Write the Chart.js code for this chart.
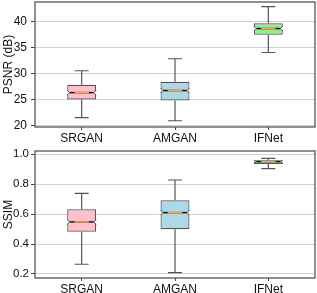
<!DOCTYPE html>
<html lang="en">
<head>
    <meta charset="UTF-8">
    <title>PSNR / SSIM box plots</title>
    <script src="https://cdn.jsdelivr.net/npm/chart.js"></script>
    <style>
        html, body { margin: 0; padding: 0; background: #fff; }
        #wrap { position: relative; width: 317px; height: 293px; overflow: hidden; }
        .box { position: absolute; left: 0; width: 317px; }
    </style>
</head>
<body>
    <div id="wrap">
        <div class="box" style="top:0;height:145px;"><canvas id="psnrChart"></canvas></div>
        <div class="box" style="top:145px;height:148px;"><canvas id="ssimChart"></canvas></div>
    </div>

    <script>
        const methods = ['SRGAN', 'AMGAN', 'IFNet'];
        const boxColors = ['#ffc0cb', '#add8e6', '#90ee90'];

        // PSNR (dB) box stats
        const psnrMin = [21.5, 20.9, 34.0];
        const psnrQ1 = [25.0, 24.8, 37.4];
        const psnrMedian = [26.3, 26.7, 38.6];
        const psnrQ3 = [27.8, 28.4, 39.6];
        const psnrMax = [30.5, 32.8, 42.8];
        const psnrTicks = [20, 25, 30, 35, 40];

        // SSIM box stats
        const ssimMin = [0.265, 0.209, 0.904];
        const ssimQ1 = [0.483, 0.499, 0.935];
        const ssimMedian = [0.548, 0.610, 0.951];
        const ssimQ3 = [0.632, 0.692, 0.960];
        const ssimMax = [0.739, 0.828, 0.973];
        const ssimTicks = [0.2, 0.4, 0.6, 0.8, 1.0];

        const FONT = 'Arial, "Liberation Sans", Helvetica, sans-serif';

        // whiskers, caps, notch and median drawn through the chart scales
        const boxPlotPlugin = {
            id: 'boxPlot',
            beforeDatasetsDraw(chart, args, opts) {
                const ctx = chart.ctx, x = chart.scales.x, y = chart.scales.y;
                ctx.save();
                ctx.strokeStyle = '#555';
                ctx.lineWidth = 1.2;
                methods.forEach((m, i) => {
                    const cx = x.getPixelForValue(i);
                    const capHalf = 7;
                    const yMin = y.getPixelForValue(opts.min[i]);
                    const yMax = y.getPixelForValue(opts.max[i]);
                    const yQ1 = y.getPixelForValue(opts.q1[i]);
                    const yQ3 = y.getPixelForValue(opts.q3[i]);
                    ctx.beginPath();
                    ctx.moveTo(cx, yMin); ctx.lineTo(cx, yQ1);
                    ctx.moveTo(cx, yQ3); ctx.lineTo(cx, yMax);
                    ctx.moveTo(cx - capHalf, yMin); ctx.lineTo(cx + capHalf, yMin);
                    ctx.moveTo(cx - capHalf, yMax); ctx.lineTo(cx + capHalf, yMax);
                    ctx.stroke();
                });
                ctx.restore();
            },
            afterDatasetsDraw(chart, args, opts) {
                const ctx = chart.ctx, y = chart.scales.y;
                const meta = chart.getDatasetMeta(0);
                ctx.save();
                meta.data.forEach((bar, i) => {
                    const half = bar.width / 2;
                    const left = bar.x - half, right = bar.x + half;
                    const yMed = y.getPixelForValue(opts.median[i]);
                    const top = Math.min(bar.y, bar.base), bottom = Math.max(bar.y, bar.base);
                    const nh = Math.min(2.5, (bottom - top) / 2 - 0.5);
                    const ind = 2.5;
                    if (nh > 0.5) {
                        // notch cut-outs
                        ctx.fillStyle = '#fff';
                        ctx.beginPath();
                        ctx.moveTo(left - 1, yMed - nh); ctx.lineTo(left + ind, yMed); ctx.lineTo(left - 1, yMed + nh);
                        ctx.moveTo(right + 1, yMed - nh); ctx.lineTo(right - ind, yMed); ctx.lineTo(right + 1, yMed + nh);
                        ctx.fill();
                        ctx.strokeStyle = '#555';
                        ctx.lineWidth = 1;
                        ctx.beginPath();
                        ctx.moveTo(left, yMed - nh); ctx.lineTo(left + ind, yMed); ctx.lineTo(left, yMed + nh);
                        ctx.moveTo(right, yMed - nh); ctx.lineTo(right - ind, yMed); ctx.lineTo(right, yMed + nh);
                        ctx.stroke();
                    }
                    ctx.lineWidth = 1.5;
                    ctx.strokeStyle = '#111';
                    ctx.beginPath();
                    ctx.moveTo(left + ind, yMed); ctx.lineTo(right - ind, yMed);
                    ctx.stroke();
                    ctx.strokeStyle = '#f2a65a';
                    ctx.beginPath();
                    ctx.moveTo(left + half * 0.5, yMed); ctx.lineTo(right - half * 0.5, yMed);
                    ctx.stroke();
                });
                ctx.restore();
            },
            afterDraw(chart) {
                const a = chart.chartArea, ctx = chart.ctx;
                ctx.save();
                ctx.strokeStyle = '#555';
                ctx.lineWidth = 1.3;
                ctx.strokeRect(a.left, a.top, a.right - a.left, a.bottom - a.top);
                ctx.restore();
            }
        };

        function makeBoxChart(id, stats, range, ticks, title, cfg) {
            const ctx = document.getElementById(id).getContext('2d');
            return new Chart(ctx, {
                type: 'bar',
                data: {
                    labels: methods,
                    datasets: [{
                        data: methods.map((m, i) => [stats.q1[i], stats.q3[i]]),
                        backgroundColor: boxColors,
                        borderColor: '#555',
                        borderWidth: 1.2,
                        borderSkipped: false,
                        categoryPercentage: 1,
                        barPercentage: 0.31
                    }]
                },
                options: {
                    responsive: true,
                    maintainAspectRatio: false,
                    animation: false,
                    events: [],
                    layout: { padding: { top: cfg.top, right: 2, left: 0, bottom: 0 } },
                    plugins: {
                        legend: { display: false },
                        tooltip: { enabled: false },
                        boxPlot: stats
                    },
                    scales: {
                        x: {
                            grid: { display: true, drawOnChartArea: false, offset: false, tickLength: 3, tickColor: '#444' },
                            border: { display: false },
                            ticks: { padding: 1, color: '#111', font: { family: FONT, size: 12 } },
                            afterFit: s => { s.height = cfg.xHeight; s.paddingLeft = 0; s.paddingRight = 0; }
                        },
                        y: {
                            min: range[0],
                            max: range[1],
                            afterBuildTicks: s => { s.ticks = ticks.map(v => ({ value: v })); },
                            grid: { color: '#d0d0d0', lineWidth: 1, tickLength: 4, tickColor: '#444' },
                            border: { display: false },
                            ticks: {
                                padding: cfg.tickPad,
                                color: '#111',
                                font: { family: FONT, size: cfg.tickSize },
                                callback: v => cfg.decimals ? Number(v).toFixed(cfg.decimals) : v
                            },
                            title: { display: true, text: title, color: '#111', padding: { top: 1, bottom: 0 }, font: { family: FONT, size: 12 } },
                            afterFit: s => { s.width = 35; s.paddingTop = 0; s.paddingBottom = 0; }
                        }
                    }
                },
                plugins: [boxPlotPlugin]
            });
        }

        makeBoxChart('psnrChart',
            { min: psnrMin, q1: psnrQ1, median: psnrMedian, q3: psnrQ3, max: psnrMax },
            [19.7, 43.7], psnrTicks, 'PSNR (dB)',
            { top: 2, xHeight: 18, tickPad: 4, tickSize: 12, decimals: 0 });

        makeBoxChart('ssimChart',
            { min: ssimMin, q1: ssimQ1, median: ssimMedian, q3: ssimQ3, max: ssimMax },
            [0.173, 1.022], ssimTicks, 'SSIM',
            { top: 6, xHeight: 15, tickPad: 2, tickSize: 11.5, decimals: 1 });
    </script>
</body>
</html>
